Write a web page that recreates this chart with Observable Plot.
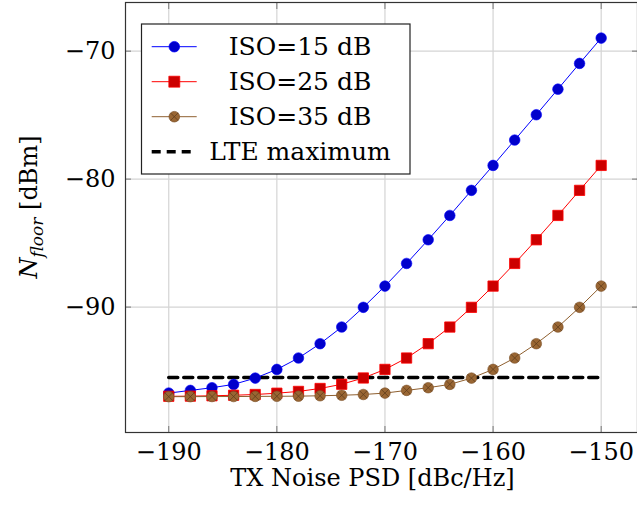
<!DOCTYPE html>
<html><head><meta charset="utf-8">
<script src="https://cdn.jsdelivr.net/npm/d3@7"></script>
<script src="https://cdn.jsdelivr.net/npm/@observablehq/plot@0.6"></script>
<style>body{margin:0;background:#fff;} svg{display:block}</style>
</head><body><div id="chart"></div>
<script>
const psd = [-190,-188,-186,-184,-182,-180,-178,-176,-174,-172,-170,-168,-166,-164,-162,-160,-158,-156,-154,-152,-150];
const iso15 = [-96.72,-96.51,-96.30,-96.04,-95.55,-94.87,-93.98,-92.86,-91.56,-90.02,-88.36,-86.59,-84.74,-82.84,-80.88,-78.93,-76.95,-74.97,-72.97,-70.96,-68.98];
const iso25 = [-96.97,-96.96,-96.93,-96.89,-96.83,-96.73,-96.59,-96.36,-96.03,-95.54,-94.87,-93.98,-92.86,-91.56,-90.02,-88.36,-86.59,-84.74,-82.84,-80.88,-78.93];
const iso35 = [-97.00,-97.00,-96.99,-96.99,-96.98,-96.97,-96.96,-96.93,-96.89,-96.83,-96.72,-96.51,-96.30,-96.04,-95.55,-94.87,-93.98,-92.86,-91.56,-90.02,-88.36];
const lteX = [-190,-150];
const lteMax = [-95.5,-95.5];
const xTicks = [-190,-180,-170,-160,-150];
const yTicks = [-90,-80,-70];
const seriesNames = ["ISO=15 dB","ISO=25 dB","ISO=35 dB","LTE maximum"];
const xLabel = "TX Noise PSD [dBc/Hz]";

const mk = ys => psd.map((x,i)=>({x, y: ys[i]}));
const d15 = mk(iso15), d25 = mk(iso25), d35 = mk(iso35);
const dLte = lteX.map((x,i)=>({x, y: lteMax[i]}));
const fmt = d => d < 0 ? "\u2212" + Math.abs(d) : String(d);

const FONT = "DejaVu Serif";
const C = {
  blueLine:"#0000ff", blueFill:"#0000cc",
  redLine:"#ff0000", redFill:"#cc0000",
  brownLine:"#8f6030", brownFill:"#996633", brownStroke:"#7a4f26"
};

const chart = Plot.plot({
  width: 637, height: 518,
  marginLeft: 125, marginRight: 0, marginTop: 2, marginBottom: 86,
  style: {fontFamily: FONT, fontSize: "24px", background: "white", color: "black"},
  x: {domain: [-194, -146.64], label: null},
  y: {domain: [-99.8, -66.2], label: null},
  marks: [
    Plot.gridX(xTicks, {stroke: "#d4d4d4", strokeOpacity: 1, strokeWidth: 1.2}),
    Plot.gridY(yTicks, {stroke: "#d4d4d4", strokeOpacity: 1, strokeWidth: 1.2}),
    Plot.axisX({anchor: "bottom", ticks: xTicks, tickSize: 6, dy: -6, tickFormat: () => "", stroke: "#777", label: null}),
    Plot.axisX({anchor: "top", ticks: xTicks, tickSize: 6, dy: 6, tickFormat: () => "", stroke: "#777", label: null}),
    Plot.axisY({anchor: "left", ticks: yTicks, tickSize: 6, dx: 6, tickFormat: () => "", stroke: "#777", label: null}),
    Plot.axisY({anchor: "right", ticks: yTicks, tickSize: 6, dx: -6, tickFormat: () => "", stroke: "#777", label: null}),
    Plot.axisX({anchor: "bottom", ticks: xTicks, tickSize: 0, tickPadding: 10, tickFormat: fmt, label: null}),
    Plot.axisY({anchor: "left", ticks: yTicks, tickSize: 0, tickPadding: 10, tickFormat: fmt, label: null}),
    Plot.line(dLte, {x: "x", y: "y", stroke: "black", strokeWidth: 3.5, strokeDasharray: "9,6"}),
    Plot.line(d15, {x: "x", y: "y", stroke: C.blueLine, strokeWidth: 1}),
    Plot.dot(d15, {x: "x", y: "y", r: 5.3, fill: C.blueFill, stroke: C.blueLine, strokeWidth: 0.6}),
    Plot.line(d25, {x: "x", y: "y", stroke: C.redLine, strokeWidth: 1}),
    Plot.dot(d25, {x: "x", y: "y", symbol: "square", r: 5.8, fill: C.redFill, stroke: C.redLine, strokeWidth: 0.8}),
    Plot.line(d35, {x: "x", y: "y", stroke: C.brownLine, strokeWidth: 1}),
    Plot.dot(d35, {x: "x", y: "y", r: 5.3, fill: C.brownFill, stroke: C.brownStroke, strokeWidth: 0.6}),
    Plot.dot(d35, {x: "x", y: "y", symbol: "times", r: 3.6, stroke: "#5a3a1a", strokeWidth: 0.7}),
    Plot.frame({stroke: "#333", strokeWidth: 1.2}),
    Plot.text([xLabel], {text: d => d, frameAnchor: "bottom", dy: 53, dx: -9, fontSize: 24})
  ]
});

const svg = d3.select(chart);
// y label with italic subscript
const yl = svg.append("text")
  .attr("transform", "translate(37,207) rotate(-90)")
  .attr("text-anchor", "middle")
  .attr("font-family", FONT).attr("font-size", 24).attr("fill", "black");
yl.append("tspan").attr("font-style", "italic").text("N");
yl.append("tspan").attr("font-style", "italic").attr("font-size", 17).attr("dy", 6).text("floor");
yl.append("tspan").attr("dy", -6).text(" [dBm]");

// legend
const lg = svg.append("g");
lg.append("rect").attr("x", 141.5).attr("y", 24).attr("width", 268.5).attr("height", 150)
  .attr("fill", "white").attr("stroke", "#222").attr("stroke-width", 1.2);
const rowsY = [46.7, 81.7, 116.7, 151.7];
const legendDefs = [
  {line: C.blueLine, sym: d3.symbolCircle, size: Math.PI*5.3*5.3, fill: C.blueFill, stroke: C.blueLine},
  {line: C.redLine, sym: d3.symbolSquare, size: 11*11, fill: C.redFill, stroke: C.redLine},
  {line: C.brownLine, sym: d3.symbolCircle, size: Math.PI*5.3*5.3, fill: C.brownFill, stroke: C.brownStroke, cross: true},
  {dash: true}
];
legendDefs.forEach((d, i) => {
  const y = rowsY[i];
  if (d.dash) {
    lg.append("line").attr("x1", 151.7).attr("x2", 191.7).attr("y1", y).attr("y2", y)
      .attr("stroke", "black").attr("stroke-width", 3.5).attr("stroke-dasharray", "9,6");
  } else {
    lg.append("line").attr("x1", 151.7).attr("x2", 196.7).attr("y1", y).attr("y2", y)
      .attr("stroke", d.line).attr("stroke-width", 1);
    lg.append("path").attr("d", d3.symbol(d.sym, d.size)()).attr("transform", `translate(174.3,${y})`)
      .attr("fill", d.fill).attr("stroke", d.stroke).attr("stroke-width", 0.7);
    if (d.cross) {
      lg.append("path").attr("d", d3.symbol(d3.symbolTimes, Math.PI*3.6*3.6)()).attr("transform", `translate(174.3,${y})`)
        .attr("fill", "none").attr("stroke", "#5a3a1a").attr("stroke-width", 0.7);
    }
  }
  lg.append("text").attr("x", 300).attr("y", y + 8.5).attr("text-anchor", "middle")
    .attr("font-family", FONT).attr("font-size", 25).attr("fill", "black").text(seriesNames[i]);
});

document.getElementById("chart").appendChild(chart);
</script>
</body></html>
